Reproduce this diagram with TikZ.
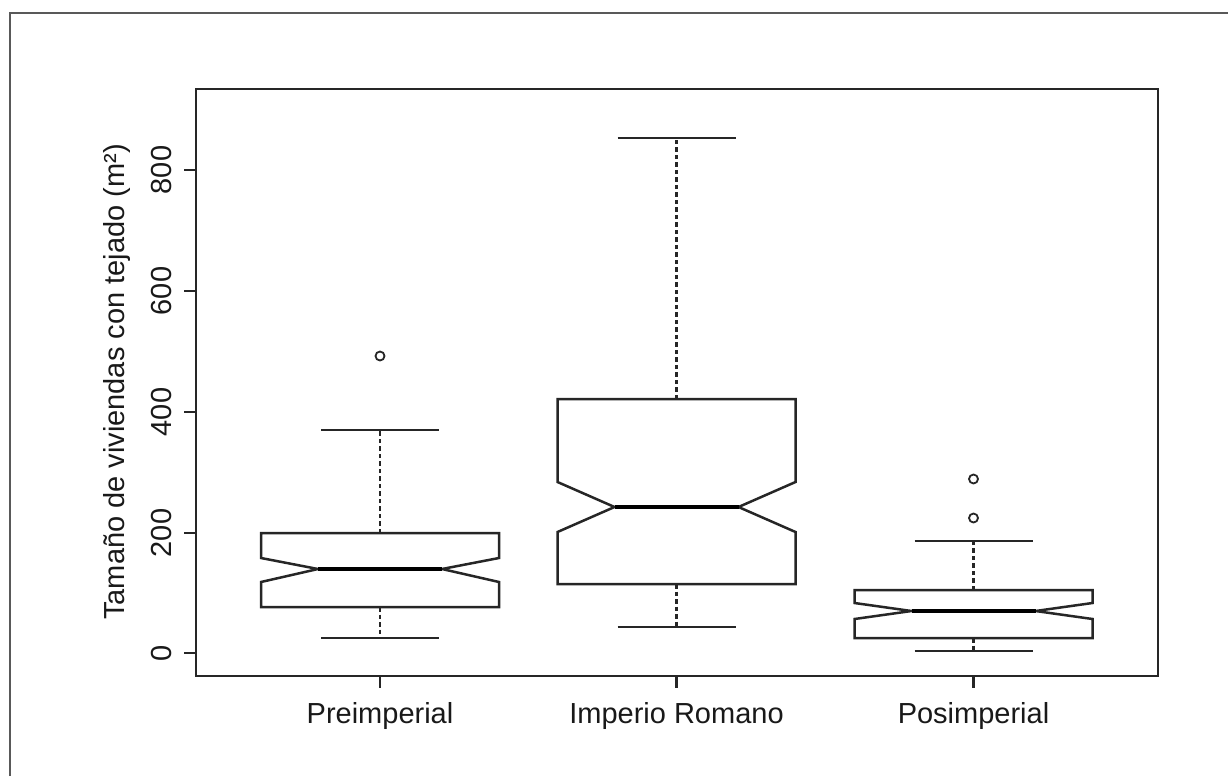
\documentclass[tikz,border=0pt]{standalone}
\usepackage{fontspec}
\setmainfont{Liberation Sans}
\usetikzlibrary{calc}
\tikzset{
  frameline/.style={draw=black!65, line width=2.4pt},
  axisline/.style={draw=black!85, line width=2.4pt},
  boxline/.style={draw=black!85, line width=2.5pt, line join=miter},
  medline/.style={draw=black, line width=4pt},
  whisk/.style={draw=black!85, line width=2.4pt, dash pattern=on 4.5pt off 3pt},
  capline/.style={draw=black!85, line width=2.5pt},
  outl/.style={draw=black!85, line width=1.8pt},
  ticklab/.style={font=\fontsize{29}{34}\selectfont, text=black!90, inner sep=0pt},
}
\newcommand{\notchbox}[9]{% #1 center, #2 top, #3 notch up, #4 median, #5 notch low, #6 bottom, #7 cap up, #8 cap low, #9 name
  \draw[whisk] (#1,#2) -- (#1,#7);
  \draw[whisk] (#1,#6) -- (#1,#8);
  \draw[capline] (#1-59,#7) -- (#1+59,#7);
  \draw[capline] (#1-59,#8) -- (#1+59,#8);
  \draw[boxline] (#1-119,#2) -- (#1+119,#2) -- (#1+119,#3) -- (#1+62,#4) -- (#1+119,#5) -- (#1+119,#6)
     -- (#1-119,#6) -- (#1-119,#5) -- (#1-62,#4) -- (#1-119,#3) -- cycle;
  \draw[medline] (#1-62,#4) -- (#1+62,#4);
  \coordinate (#9) at (#1,676);
}
\begin{document}
\begin{tikzpicture}[x=1pt,y=-1pt]
\useasboundingbox (0,0) rectangle (1228,776);
% outer frame (only top and left visible)
\draw[frameline] (10,776) -- (10,13) -- (1228,13);
% plot box
\draw[axisline] (196,89) rectangle (1158,676);
% y ticks
\foreach \yy/\lab in {653/0,533/200,412/400,291/600,170/800}{
  \draw[axisline] (184,\yy) -- (196,\yy);
  \node[ticklab, rotate=90] at (162,\yy) {\lab};
}
\node[ticklab, rotate=90] (ytitle) at (117,382) {Tamaño de viviendas con tejado (m²)};
% boxes
\notchbox{380}{533}{558}{569}{582}{607}{430}{638}{pre}
\notchbox{676.5}{399}{482}{507}{532}{584}{138}{627}{imp}
\notchbox{973.5}{590}{603}{611}{619}{638}{541}{651}{pos}
% outliers
\draw[outl] (380,356) circle (4.5);
\draw[outl] (973.5,479) circle (4.5);
\draw[outl] (973.5,518) circle (4.5);
% x ticks and labels
\foreach \c/\lab in {pre/Preimperial,imp/Imperio Romano,pos/Posimperial}{
  \draw[axisline] (\c) -- ++(0,12);
  \node[ticklab, anchor=base] (lab-\c) at ($(\c)+(0,47)$) {\lab};
}
\end{tikzpicture}
\end{document}
